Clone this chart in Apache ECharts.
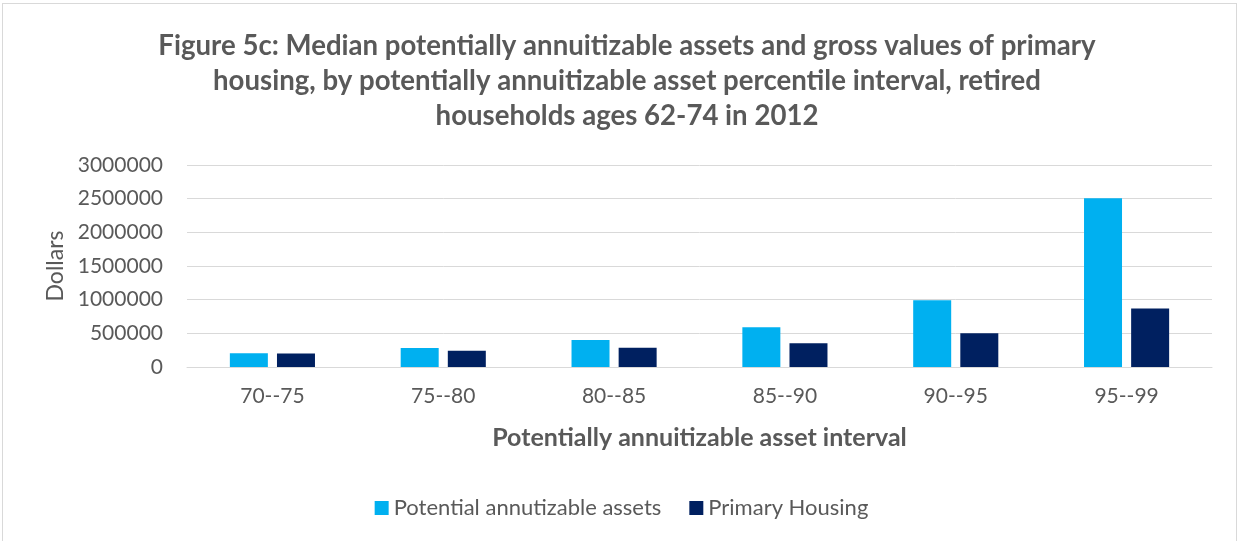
<!DOCTYPE html>
<html>
<head>
<meta charset="utf-8">
<script src="https://cdn.jsdelivr.net/npm/echarts@6/dist/echarts.min.js"></script>
<style>
  html, body { margin: 0; padding: 0; background: #fff; }
  #frame { position: absolute; left: 2px; top: 3px; width: 1235px; height: 560px; border: 1px solid #d9d9d9; box-sizing: border-box; }
  #chart { position: absolute; left: 0; top: 0; width: 1243px; height: 541px; }
</style>
</head>
<body>
<div id="frame"></div>
<div id="chart"></div>
<script>
// Percentile intervals and median values (dollars)
const categories = ['70--75', '75--80', '80--85', '85--90', '90--95', '95--99'];
const annuitizableAssets = [203000, 282000, 400000, 590000, 990000, 2507000];
const primaryHousing = [200000, 242000, 287000, 352000, 500000, 867000];
const yTicks = { min: 0, max: 3000000, interval: 500000 };

const FONT = 'Lato, "Open Sans", sans-serif';
const GREY = '#595959';

const chart = echarts.init(document.getElementById('chart'), null, { renderer: 'canvas' });
chart.setOption({
  animation: false,
  backgroundColor: 'transparent',
  title: {
    text: 'Figure 5c: Median potentially annuitizable assets and gross values of primary\nhousing, by potentially annuitizable asset percentile interval, retired\nhouseholds ages 62-74 in 2012',
    left: 622,
    textAlign: 'center',
    top: 24,
    textStyle: { fontFamily: FONT, fontWeight: 'bold', fontSize: 27.6, color: GREY, lineHeight: 35 }
  },
  legend: {
    top: 492,
    left: 'center',
    itemWidth: 14,
    itemHeight: 14,
    itemGap: 28,
    icon: 'rect',
    textStyle: { fontFamily: FONT, fontSize: 22, color: GREY },
    data: ['Potential annutizable assets', 'Primary Housing']
  },
  grid: { left: 187, right: 31, top: 165, bottom: 174, containLabel: false },
  xAxis: {
    type: 'category',
    data: categories,
    name: 'Potentially annuitizable asset interval',
    nameLocation: 'middle',
    nameGap: 58,
    nameTextStyle: { fontFamily: FONT, fontWeight: 'bold', fontSize: 25, color: GREY },
    axisLine: { lineStyle: { color: '#d9d9d9', width: 1 } },
    axisTick: { show: false },
    axisLabel: { fontFamily: FONT, fontSize: 21, color: GREY, margin: 19 }
  },
  yAxis: {
    type: 'value',
    min: yTicks.min,
    max: yTicks.max,
    interval: yTicks.interval,
    name: 'Dollars',
    nameLocation: 'middle',
    nameGap: 115,
    nameRotate: 90,
    nameTextStyle: { fontFamily: FONT, fontSize: 23, color: GREY },
    axisLine: { show: false },
    axisTick: { show: false },
    splitLine: { lineStyle: { color: '#d9d9d9', width: 1 } },
    axisLabel: {
      fontFamily: FONT, fontSize: 21, color: GREY, margin: 24,
      formatter: v => String(v)
    }
  },
  series: [
    {
      name: 'Potential annutizable assets',
      type: 'bar',
      data: annuitizableAssets,
      itemStyle: { color: '#00b0f0' },
      barWidth: 38,
      barGap: '24%'
    },
    {
      name: 'Primary Housing',
      type: 'bar',
      data: primaryHousing,
      itemStyle: { color: '#002060' },
      barWidth: 38,
      barGap: '24%'
    }
  ]
});
</script>
</body>
</html>
